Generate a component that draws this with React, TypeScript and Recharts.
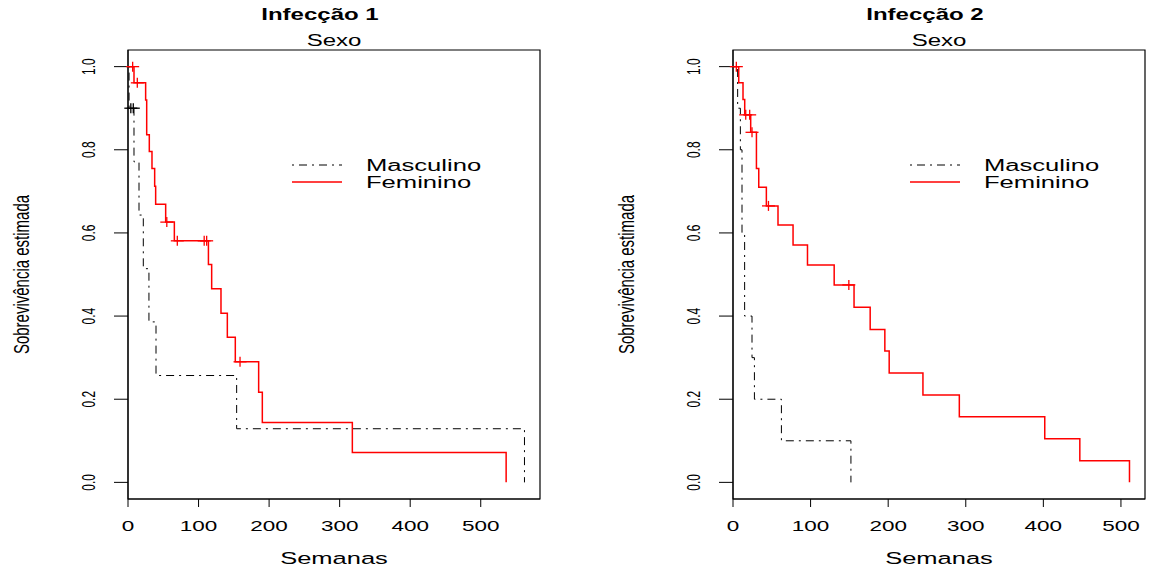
import React from "react";
import { ComposedChart, Line, Scatter, XAxis, YAxis, ReferenceArea, Legend, Label } from "recharts";

const FONT = "'Liberation Sans', Arial, Helvetica, sans-serif";
const RED = "#ff0000";
const DOTDASH = "2 5 8 5";

// Infecção 1 - Masculino
const inf1MascT = [0, 1.5, 8.5, 15.6, 21.7, 29.7, 39.7, 154, 562];
const inf1MascS = [1, 0.9, 0.771, 0.643, 0.514, 0.386, 0.257, 0.129, 0];
const inf1MascCensT = [4, 7.5];
const inf1MascCensS = [0.9, 0.9];

// Infecção 1 - Feminino
const inf1FemT = [0, 8.5, 25, 26.5, 30.2, 34, 37.8, 39.2, 53.4, 65.7, 114, 118.6, 131.8, 140.8, 152.1, 185.2, 190.4, 318, 536];
const inf1FemS = [1, 0.961, 0.92, 0.836, 0.796, 0.755, 0.712, 0.669, 0.626, 0.581, 0.524, 0.466, 0.407, 0.349, 0.29, 0.217, 0.144, 0.072, 0];
const inf1FemCensT = [6.6, 13.2, 55, 69.9, 108, 111.5, 158.8];
const inf1FemCensS = [1, 0.961, 0.626, 0.581, 0.581, 0.581, 0.29];

// Infecção 2 - Masculino
const inf2MascT = [0, 6, 9.5, 11.6, 15, 24.5, 27.6, 62.4, 152];
const inf2MascS = [1, 0.9, 0.8, 0.6, 0.4, 0.3, 0.2, 0.1, 0];

// Infecção 2 - Feminino
const inf2FemT = [0, 7.4, 12.9, 15.1, 22.8, 30.2, 33.2, 43, 58, 77.4, 96, 130.4, 156, 176.8, 195.7, 201.3, 244.8, 291.7, 401.8, 447, 511];
const inf2FemS = [1, 0.961, 0.921, 0.884, 0.842, 0.755, 0.71, 0.665, 0.619, 0.571, 0.523, 0.475, 0.421, 0.368, 0.316, 0.263, 0.21, 0.158, 0.105, 0.052, 0];
const inf2FemCensT = [4.3, 16.4, 21.5, 24.5, 45.7, 149.3];
const inf2FemCensS = [1, 0.884, 0.884, 0.842, 0.665, 0.475];

const xTicks = [0, 100, 200, 300, 400, 500];
const yTicks = [0, 0.2, 0.4, 0.6, 0.8, 1];
const groups = ["Masculino", "Feminino"];

const zip = (t: number[], s: number[]) => t.map((v, i) => ({ t: v, s: s[i] }));

const Cross = (props: any) => {
  const { cx, cy, color } = props;
  return (
    <g stroke={color} strokeWidth={1.3}>
      <line x1={cx - 6.5} x2={cx + 6.5} y1={cy} y2={cy} />
      <line x1={cx} x2={cx} y1={cy - 5} y2={cy + 5} />
    </g>
  );
};

type PanelProps = {
  title: string;
  plotLeft: number;
  plotRight: number;
  xMax: number;
  legendX: number;
  masc: { t: number; s: number }[];
  fem: { t: number; s: number }[];
  mascCens: { t: number; s: number }[];
  femCens: { t: number; s: number }[];
};

function Panel({ title, plotLeft, plotRight, xMax, legendX, masc, fem, mascCens, femCens }: PanelProps) {
  const W = 575;
  const H = 567;
  const cx = (plotLeft + plotRight) / 2;
  return (
    <div style={{ position: "relative", width: W, height: H }}>
      <div style={{ position: "absolute", left: cx - 164, top: 4, width: 300, textAlign: "center", fontFamily: FONT, fontWeight: "bold", fontSize: 16, transform: "scaleX(1.5)", lineHeight: "22px" }}>
        {title}
      </div>
      <div style={{ position: "absolute", left: cx - 150, top: 32, width: 300, textAlign: "center", fontFamily: FONT, fontSize: 16, transform: "scaleX(1.5)", lineHeight: "18px" }}>
        Sexo
      </div>
      <ComposedChart width={W} height={H} margin={{ top: 50, right: W - plotRight, bottom: 0, left: 0 }}>
        <XAxis
          type="number"
          dataKey="t"
          domain={[0, xMax]}
          ticks={xTicks}
          height={68}
          tickSize={8}
          stroke="#000"
          tick={(p: any) => (
            <g transform={`translate(${p.x},531)`}>
              <text textAnchor="middle" transform="scale(1.5,1)" fontSize={15} fontFamily={FONT} fill="#000">
                {p.payload.value}
              </text>
            </g>
          )}
        >
          <Label
            content={() => (
              <g transform={`translate(${cx},564)`}>
                <text textAnchor="middle" transform="scale(1.5,1)" fontSize={17} fontFamily={FONT} fill="#000">
                  Semanas
                </text>
              </g>
            )}
          />
        </XAxis>
        <YAxis
          type="number"
          dataKey="s"
          domain={[-0.04, 1.04]}
          ticks={yTicks}
          width={plotLeft}
          tickSize={14}
          stroke="#000"
          tick={(p: any) => (
            <text transform={`translate(${plotLeft - 33},${p.y}) scale(1.5,1) rotate(-90)`} textAnchor="middle" fontSize={12} fontFamily={FONT} fill="#000">
              {Number(p.payload.value).toFixed(1)}
            </text>
          )}
        >
          <Label
            content={() => (
              <text transform={`translate(${plotLeft - 99},274.5) scale(1.5,1) rotate(-90)`} textAnchor="middle" fontSize={15} fontFamily={FONT} fill="#000">
                Sobrevivência estimada
              </text>
            )}
          />
        </YAxis>
        <ReferenceArea x1={0} x2={xMax} y1={-0.04} y2={1.04} fill="none" stroke="#000" strokeWidth={1.2} ifOverflow="visible" />
        <Line data={masc} dataKey="s" type="stepAfter" stroke="#000" strokeWidth={1} strokeDasharray={DOTDASH} dot={false} activeDot={false} isAnimationActive={false} />
        <Line data={fem} dataKey="s" type="stepAfter" stroke={RED} strokeWidth={1.5} dot={false} activeDot={false} isAnimationActive={false} />
        <Scatter data={mascCens} dataKey="s" shape={(p: any) => <Cross cx={p.cx} cy={p.cy} color="#000" />} isAnimationActive={false} />
        <Scatter data={femCens} dataKey="s" shape={(p: any) => <Cross cx={p.cx} cy={p.cy} color={RED} />} isAnimationActive={false} />
        <Legend
          layout="horizontal"
          verticalAlign="middle"
          align="center"
          wrapperStyle={{ left: legendX, top: 154, width: 240, height: 40 }}
          content={() => (
            <svg width={240} height={40}>
              {groups.map((g, i) => (
                <g key={g}>
                  <line x1={0} x2={50} y1={11 + i * 17} y2={11 + i * 17} stroke={i === 0 ? "#000" : RED} strokeWidth={i === 0 ? 1 : 1.5} strokeDasharray={i === 0 ? DOTDASH : undefined} />
                  <g transform={`translate(74,${17 + i * 17})`}>
                    <text transform="scale(1.6,1)" fontSize={16} fontFamily={FONT} fill="#000">
                      {g}
                    </text>
                  </g>
                </g>
              ))}
            </svg>
          )}
        />
      </ComposedChart>
    </div>
  );
}

export default function App() {
  return (
    <div style={{ position: "absolute", left: 0, top: 0, width: 1150, height: 567, background: "#fff", display: "flex" }}>
      <Panel
        title="Infecção 1"
        plotLeft={128}
        plotRight={540}
        xMax={584}
        legendX={292}
        masc={zip(inf1MascT, inf1MascS)}
        fem={zip(inf1FemT, inf1FemS)}
        mascCens={zip(inf1MascCensT, inf1MascCensS)}
        femCens={zip(inf1FemCensT, inf1FemCensS)}
      />
      <Panel
        title="Infecção 2"
        plotLeft={158}
        plotRight={570}
        xMax={531}
        legendX={335}
        masc={zip(inf2MascT, inf2MascS)}
        fem={zip(inf2FemT, inf2FemS)}
        mascCens={[]}
        femCens={zip(inf2FemCensT, inf2FemCensS)}
      />
    </div>
  );
}
